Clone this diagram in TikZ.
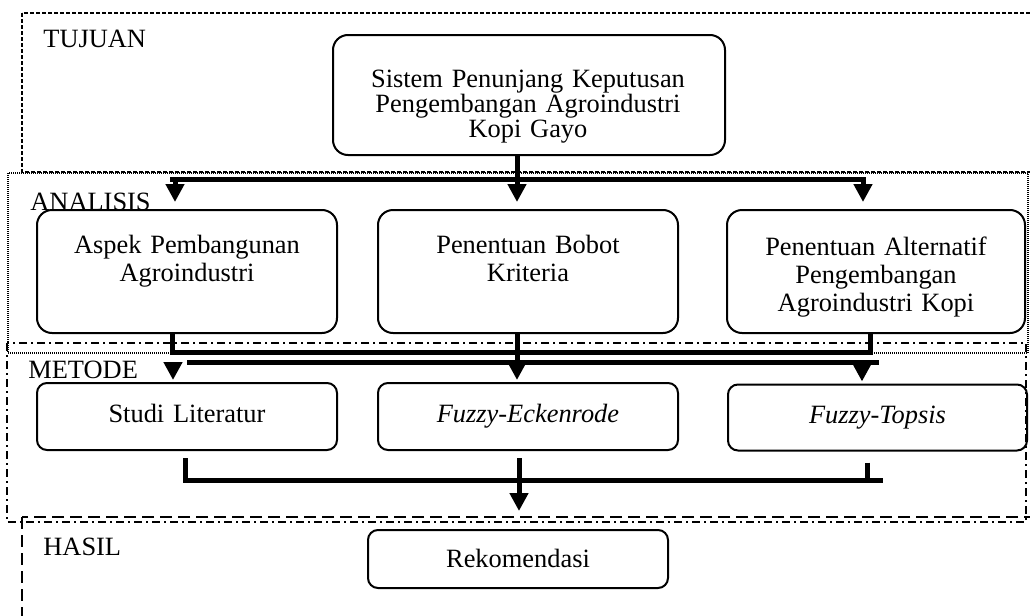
\documentclass[tikz,border=0pt]{standalone}
\usepackage{fontspec}
\setmainfont{Liberation Serif}
\usetikzlibrary{arrows.meta}

\tikzset{
  box/.style={draw, line width=1pt, rounded corners=7.5pt, inner sep=0pt},
  smallbox/.style={box, rounded corners=5pt},
  txt/.style={align=center, inner sep=0pt, anchor=base, text width=185pt,
    font=\fontsize{13.2pt}{12.5pt}\selectfont},
  wide/.style={txt, font=\fontsize{13.2pt}{14pt}\selectfont},
  region/.style={inner sep=0pt, anchor=base west, font=\fontsize{13.2pt}{12.5pt}\selectfont},
  bar/.style={line width=2.5pt},
  flow/.style={line width=2.5pt, -{Triangle[length=9pt,width=9pt]}},
  tujuanline/.style={line width=0.75pt, dash pattern=on 2pt off 1pt},
  analisisline/.style={line width=0.75pt, dash pattern=on 0.5pt off 0.5pt},
  metodeline/.style={line width=0.75pt, dash pattern=on 4pt off 2pt on 1pt off 2pt},
  hasilline/.style={line width=0.75pt, dash pattern=on 6pt off 3pt}
}

\begin{document}
\begin{tikzpicture}[x=0.5pt, y=-0.5pt]
\path[use as bounding box] (0,0) rectangle (1030,616);
\clip (0,0) rectangle (1030,616);

% areas
\draw[tujuanline]   (22,13)  rectangle (1045,172);
\draw[analisisline] (8,173)  rectangle (1028,353);
\draw[metodeline]   (7,343)  rectangle (1026,522);
\draw[hasilline]    (22,517) rectangle (1045,640);

\node[region] (tujuan)   at (43,47)  {TUJUAN};
\node[region] (analisis) at (30,210) {ANALISIS};
\node[region] (metode)   at (28,378) {METODE};
\node[region] (hasil)    at (43,555) {HASIL};

% boxes
\node[box, minimum width=196pt, minimum height=60pt] (goal) at (529,95) {};
\node[txt] (goal-t) at (528,87) {Sistem Penunjang Keputusan\\Pengembangan Agroindustri\\Kopi Gayo};

\node[box, minimum width=150pt, minimum height=61.5pt] (a1) at (187,271.5) {};
\node[box, minimum width=150pt, minimum height=61.5pt] (a2) at (528,271.5) {};
\node[box, minimum width=149pt, minimum height=61.5pt] (a3) at (876,271.5) {};
\node[wide] (a1-t) at (187,253) {Aspek Pembangunan\\Agroindustri};
\node[wide] (a2-t) at (528,253) {Penentuan Bobot\\Kriteria};
\node[wide] (a3-t) at (876,255) {Penentuan Alternatif\\Pengembangan\\Agroindustri Kopi};

\node[smallbox, minimum width=150pt, minimum height=33.5pt] (m1) at (187,416.5) {};
\node[smallbox, minimum width=150pt, minimum height=33.5pt] (m2) at (528,416.5) {};
\node[smallbox, minimum width=149.5pt, minimum height=33pt] (m3) at (877.5,417.5) {};
\node[txt] (m1-t) at (187,422) {Studi Literatur};
\node[txt] (m2-t) at (528,422) {\textit{Fuzzy-Eckenrode}};
\node[txt] (m3-t) at (877.5,423) {\textit{Fuzzy-Topsis}};

\node[smallbox, minimum width=150pt, minimum height=29pt] (rek) at (518,559) {};
\node[txt] (rek-t) at (518,567) {Rekomendasi};

% tujuan -> analisis
\coordinate (s1) at (517,179);
\coordinate (l1) at (175,179);
\coordinate (r1) at (863,179);
\draw[flow, shorten >=3.5pt] (goal.south -| s1) -- (s1 |- a2.north);
\draw[bar] (170,179) -- (866,179);
\draw[flow, shorten >=3.5pt] (l1) -- (l1 |- a1.north);
\draw[flow, shorten >=3.5pt] (r1) -- (r1 |- a3.north);

% analisis -> metode
\coordinate (u1) at (172,352);
\coordinate (u2) at (870,352);
\draw[bar] (a1.south -| u1) -- (u1) -- (u2) -- (a3.south -| u2);
\draw[flow, shorten >=1pt] (a2.south -| s1) -- (s1 |- m2.north);
\draw[bar] (187,362) -- (879,362);
\coordinate (l2) at (173,366);
\coordinate (r2) at (862,362);
\draw[flow, shorten >=1pt] (l2) -- (l2 |- m1.north);
\draw[flow, shorten >=1pt] (r2) -- (r2 |- m3.north);

% metode -> hasil
\coordinate (b1) at (185,480);
\coordinate (b2) at (883,480);
\coordinate (b3) at (867,480);
\coordinate (c1) at (519,480);
\draw[bar, shorten <=3.5pt] (m1.south -| b1) -- (b1) -- (b2);
\draw[bar, shorten <=5.5pt] (m3.south -| b3) -- (b3);
\draw[flow, shorten <=3.5pt, shorten >=9pt] (m2.south -| c1) -- (c1 |- rek.north);

\end{tikzpicture}
\end{document}
